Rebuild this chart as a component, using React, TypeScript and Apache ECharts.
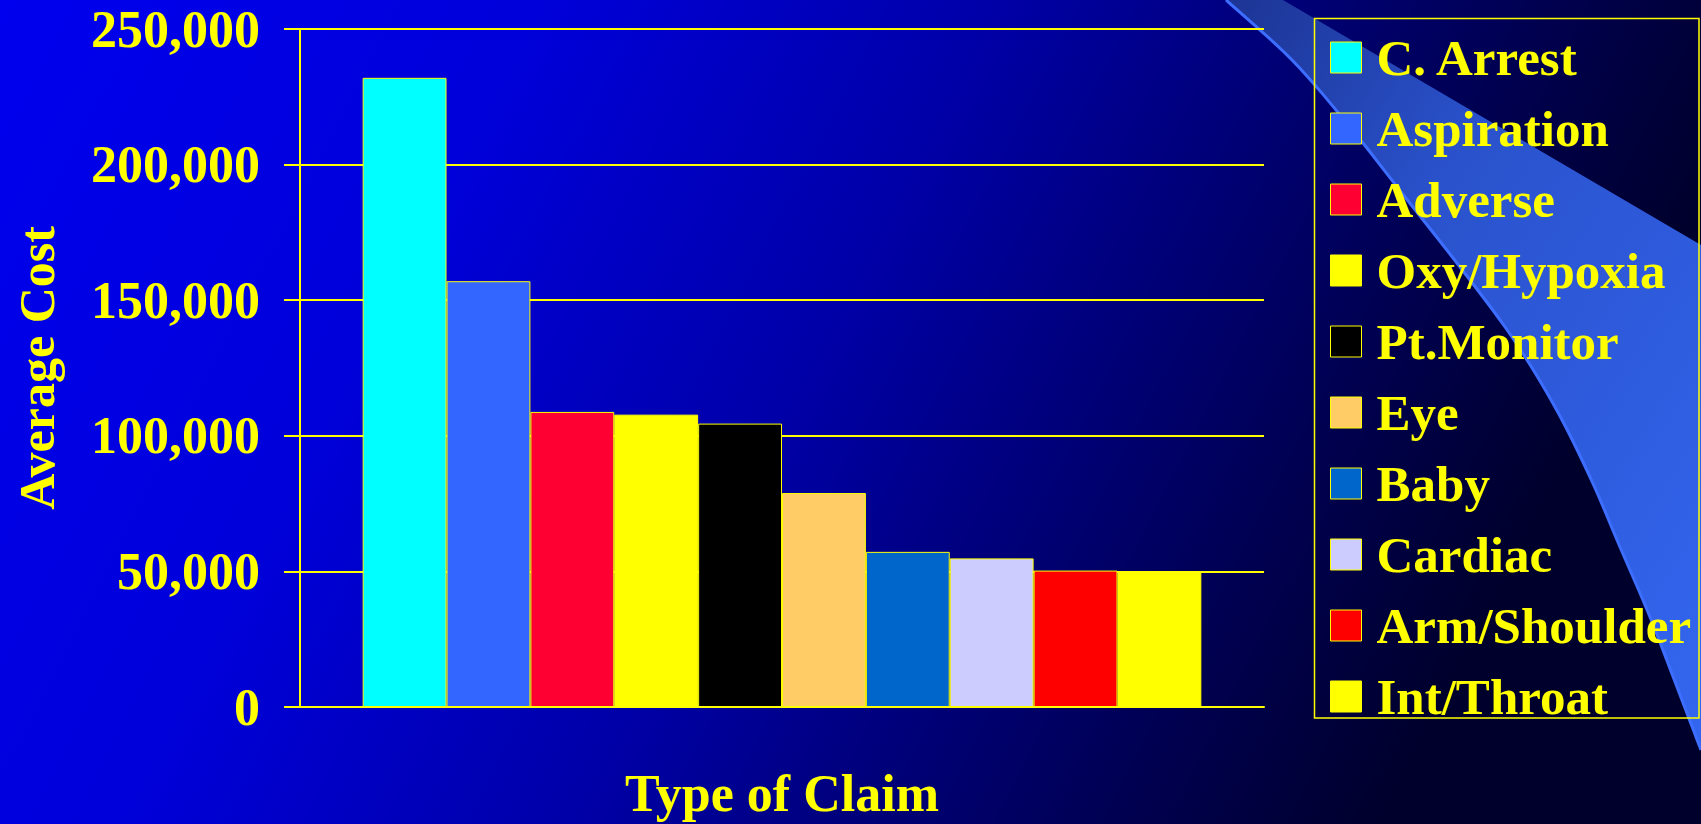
import React, { useEffect, useRef } from 'react';
import * as echarts from 'echarts';

const claimTypes = [
  'C. Arrest',
  'Aspiration',
  'Adverse',
  'Oxy/Hypoxia',
  'Pt.Monitor',
  'Eye',
  'Baby',
  'Cardiac',
  'Arm/Shoulder',
  'Int/Throat',
];
const averageCosts = [232000, 157000, 108800, 107800, 104500, 78900, 57200, 54800, 50300, 49900];
const barColors = [
  '#00FFFF',
  '#3366FF',
  '#FF0033',
  '#FFFF00',
  '#000000',
  '#FFCC66',
  '#0066CC',
  '#CCCCFF',
  '#FF0000',
  '#FFFF00',
];
const yMin = 0;
const yMax = 250000;
const yStep = 50000;

const W = 1701;
const H = 824;
const YELLOW = '#FFFF00';
const FONT = '"Liberation Serif", "Times New Roman", serif';

// control points of the decorative swoosh edge (background ornament)
const rimControl: number[][] = [
  [1226, 0],
  [1292, 60],
  [1350, 127],
  [1405, 197],
  [1460, 267],
  [1512, 337],
  [1555, 407],
  [1590, 477],
  [1620, 547],
  [1650, 617],
  [1677, 687],
  [1701, 750],
];

function catmull(pts: number[][], steps: number): number[][] {
  const out: number[][] = [];
  for (let i = 0; i < pts.length - 1; i++) {
    const p0 = pts[Math.max(0, i - 1)];
    const p1 = pts[i];
    const p2 = pts[i + 1];
    const p3 = pts[Math.min(pts.length - 1, i + 2)];
    for (let s = 0; s < steps; s++) {
      const t = s / steps;
      const t2 = t * t;
      const t3 = t2 * t;
      const f = (a: number, b: number, c: number, d: number) =>
        0.5 * (2 * b + (-a + c) * t + (2 * a - 5 * b + 4 * c - d) * t2 + (-a + 3 * b - 3 * c + d) * t3);
      out.push([f(p0[0], p1[0], p2[0], p3[0]), f(p0[1], p1[1], p2[1], p3[1])]);
    }
  }
  out.push(pts[pts.length - 1]);
  return out;
}

export default function App() {
  const ref = useRef<HTMLDivElement>(null);

  useEffect(() => {
    if (!ref.current) return;
    const chart = echarts.init(ref.current, undefined, { renderer: 'svg' });

    const rim = catmull(rimControl, 8);
    const swooshPoints = [...rim, [1701, 245], [1283, 0]];

    const option: any = {
      animation: false,
      graphic: [
        {
          type: 'rect',
          z: -100,
          silent: true,
          shape: { x: 0, y: 0, width: W, height: H },
          style: {
            fill: new echarts.graphic.LinearGradient(0, 0, 1, 0.25, [
              { offset: 0, color: '#0000EE' },
              { offset: 0.3, color: '#0000DA' },
              { offset: 0.55, color: '#0000A8' },
              { offset: 0.7, color: '#00007C' },
              { offset: 0.85, color: '#000052' },
              { offset: 1, color: '#00002C' },
            ]),
          },
        },
        {
          type: 'polygon',
          z: -90,
          silent: true,
          shape: { points: swooshPoints },
          style: {
            fill: new echarts.graphic.LinearGradient(0, 0, 1, 1, [
              { offset: 0, color: '#1C3494' },
              { offset: 0.35, color: '#2A52CC' },
              { offset: 1, color: '#3366F0' },
            ]),
          },
        },
        {
          type: 'polyline',
          z: -89,
          silent: true,
          shape: { points: rim },
          style: { stroke: '#3D6EFF', lineWidth: 3, fill: 'none' },
        },
        {
          type: 'rect',
          z: 10,
          silent: true,
          shape: { x: 1314.5, y: 18.5, width: 384.5, height: 699.5 },
          style: { fill: 'none', stroke: YELLOW, lineWidth: 1.5 },
        },
      ],
      legend: {
        orient: 'vertical',
        left: 1330,
        top: 32,
        padding: 0,
        itemWidth: 31,
        itemHeight: 31,
        itemGap: 20,
        icon: 'rect',
        selectedMode: false,
        itemStyle: { borderColor: YELLOW, borderWidth: 1 },
        textStyle: {
          color: YELLOW,
          fontFamily: FONT,
          fontWeight: 'bold',
          fontSize: 51,
          lineHeight: 50,
          padding: [0, 0, 0, 10],
        },
        data: claimTypes,
      },
      grid: {
        left: 300,
        right: W - 1264,
        top: 29,
        bottom: 116,
        containLabel: false,
      },
      xAxis: {
        type: 'category',
        data: ['Type of Claim'],
        name: 'Type of Claim',
        nameLocation: 'middle',
        nameGap: 60,
        nameTextStyle: {
          color: YELLOW,
          fontFamily: FONT,
          fontWeight: 'bold',
          fontSize: 52,
          lineHeight: 52,
        },
        axisLine: { show: true, lineStyle: { color: YELLOW, width: 2 } },
        axisTick: { show: false },
        axisLabel: { show: false },
        splitLine: { show: false },
      },
      yAxis: {
        type: 'value',
        min: yMin,
        max: yMax,
        interval: yStep,
        name: 'Average Cost',
        nameLocation: 'middle',
        nameRotate: 90,
        nameGap: 238,
        nameTextStyle: {
          color: YELLOW,
          fontFamily: FONT,
          fontWeight: 'bold',
          fontSize: 50,
          lineHeight: 50,
        },
        axisLine: { show: true, lineStyle: { color: YELLOW, width: 2 } },
        axisTick: { show: true, inside: false, length: 16, lineStyle: { color: YELLOW, width: 2 } },
        axisLabel: {
          color: YELLOW,
          fontFamily: FONT,
          fontWeight: 'bold',
          fontSize: 52,
          margin: 40,
          formatter: (v: number) => v.toLocaleString('en-US'),
        },
        splitLine: { show: true, lineStyle: { color: YELLOW, width: 2 } },
      },
      series: claimTypes.map((name, i) => ({
        type: 'bar',
        name,
        data: [averageCosts[i]],
        barGap: '0%',
        barCategoryGap: '13%',
        itemStyle: { color: barColors[i], borderColor: YELLOW, borderWidth: 1 },
        emphasis: { disabled: true },
      })),
    };

    chart.setOption(option);
    return () => {
      chart.dispose();
    };
  }, []);

  return (
    <div
      ref={ref}
      style={{ position: 'fixed', left: 0, top: 0, width: W, height: H }}
    />
  );
}
